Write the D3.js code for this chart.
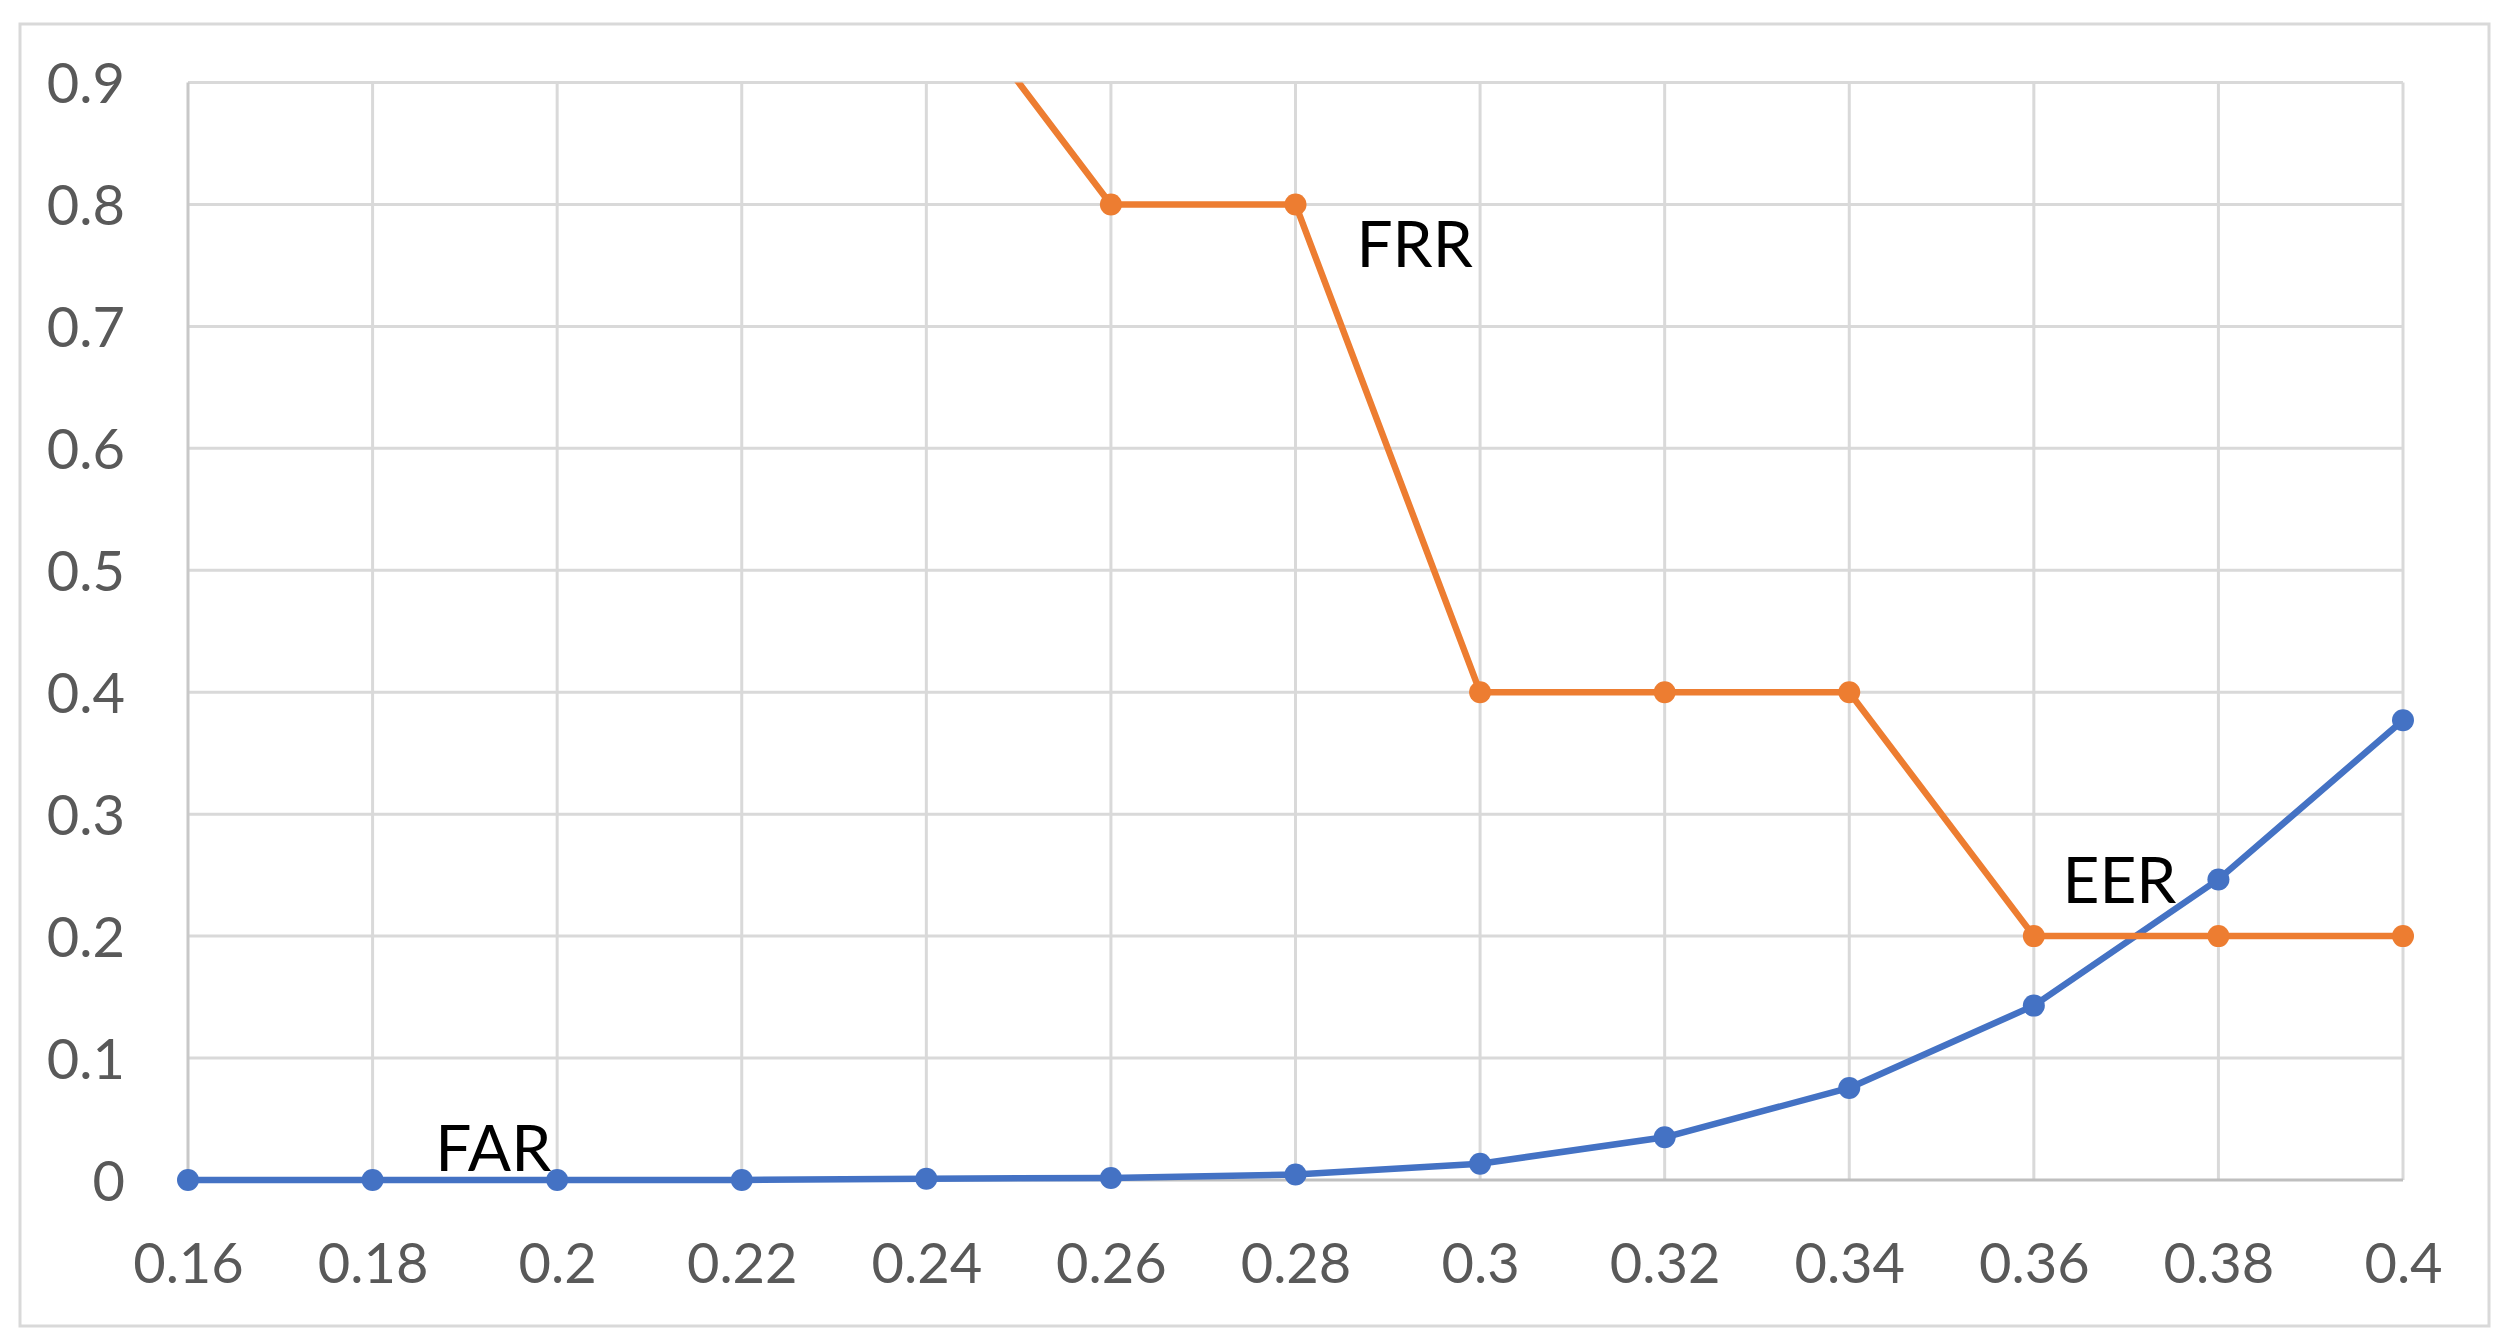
<!DOCTYPE html>
<html>
<head>
<meta charset="utf-8">
<script src="https://cdn.jsdelivr.net/npm/d3@7"></script>
<style>
  body { margin: 0; background: #fff; }
  text { font-family: Lato, "Open Sans", sans-serif; }
</style>
</head>
<body>
<div id="chart"></div>
<script>
// threshold values on the x axis
var thresholds = [0.16, 0.18, 0.2, 0.22, 0.24, 0.26, 0.28, 0.3, 0.32, 0.34, 0.36, 0.38, 0.4];
var xTickLabels = ["0.16", "0.18", "0.2", "0.22", "0.24", "0.26", "0.28", "0.3", "0.32", "0.34", "0.36", "0.38", "0.4"];
var yTicks = [0, 0.1, 0.2, 0.3, 0.4, 0.5, 0.6, 0.7, 0.8, 0.9];
var yTickLabels = ["0", "0.1", "0.2", "0.3", "0.4", "0.5", "0.6", "0.7", "0.8", "0.9"];

// false acceptance rate (blue)
var far = [0, 0, 0, 0, 0.001, 0.0017, 0.0045, 0.0134, 0.035, 0.0755, 0.143, 0.2465, 0.377];
// false rejection rate (orange)
var frr = [1, 1, 1, 1, 1, 0.8, 0.8, 0.4, 0.4, 0.4, 0.2, 0.2, 0.2];

var W = 2506, H = 1342;
var margin = {top: 82.5, right: 103, bottom: 162, left: 188};
var width = W - margin.left - margin.right;
var height = H - margin.top - margin.bottom;

var svg = d3.select("#chart")
            .append("svg")
            .attr("width", W)
            .attr("height", H);

// outer chart border
svg.append("rect")
   .attr("x", 20).attr("y", 24)
   .attr("width", 2469).attr("height", 1302)
   .attr("fill", "#fff")
   .attr("stroke", "#d9d9d9")
   .attr("stroke-width", 3);

var g = svg.append("g")
           .attr("transform", "translate(" + margin.left + "," + margin.top + ")");

var x = d3.scaleLinear().domain([0.16, 0.4]).range([0, width]);
var y = d3.scaleLinear().domain([0, 0.9]).range([height, 0]);

// gridlines
g.selectAll(".hgrid")
 .data(yTicks.slice(1))
 .enter().append("line")
 .attr("x1", 0).attr("x2", width)
 .attr("y1", d => y(d)).attr("y2", d => y(d))
 .attr("stroke", "#d9d9d9")
 .attr("stroke-width", 3);

g.selectAll(".vgrid")
 .data(thresholds)
 .enter().append("line")
 .attr("x1", d => x(d)).attr("x2", d => x(d))
 .attr("y1", 0).attr("y2", height)
 .attr("stroke", (d, i) => i == 0 ? "#c8c8c8" : "#d9d9d9")
 .attr("stroke-width", 3);

// bottom axis line
g.append("line")
 .attr("x1", 0).attr("x2", width)
 .attr("y1", y(0)).attr("y2", y(0))
 .attr("stroke", "#bfbfbf")
 .attr("stroke-width", 3);

// axes (labels only)
var xAxis = g.append("g")
   .attr("transform", "translate(0," + height + ")")
   .call(d3.axisBottom(x).tickValues(thresholds).tickSize(0).tickPadding(63)
          .tickFormat((d, i) => xTickLabels[i]));
var yAxis = g.append("g")
   .call(d3.axisLeft(y).tickValues(yTicks).tickSize(0).tickPadding(63)
          .tickFormat((d, i) => yTickLabels[i]));

[xAxis, yAxis].forEach(function(a) {
  a.select(".domain").remove();
  a.selectAll("text")
   .attr("font-family", "Lato, 'Open Sans', sans-serif")
   .attr("font-size", 56)
   .attr("fill", "#595959");
});
yAxis.selectAll("text").attr("dy", "0.36em");

// clip at top of plot area
svg.append("clipPath").attr("id", "plotClip")
   .append("rect")
   .attr("x", -30).attr("y", 0)
   .attr("width", width + 60).attr("height", height + 40);

var plot = g.append("g").attr("clip-path", "url(#plotClip)");

var line = d3.line()
             .x((d, i) => x(thresholds[i]))
             .y(d => y(d));

var series = [
  {name: "FAR", values: far, color: "#4472C4"},
  {name: "FRR", values: frr, color: "#ED7D31"}
];

series.forEach(function(s) {
  plot.append("path")
      .datum(s.values)
      .attr("fill", "none")
      .attr("stroke", s.color)
      .attr("stroke-width", 6.5)
      .attr("stroke-linejoin", "round")
      .attr("d", line);

  plot.selectAll(".pt-" + s.name)
      .data(s.values)
      .enter().append("circle")
      .attr("cx", (d, i) => x(thresholds[i]))
      .attr("cy", d => y(d))
      .attr("r", 11)
      .attr("fill", s.color);
});

// text annotations, anchored in data space
var notes = [
  {text: "FAR", x: 0.1868, y: 0.0074},
  {text: "FRR", x: 0.2866, y: 0.7485},
  {text: "EER", x: 0.3631, y: 0.2272}
];

g.selectAll(".note")
 .data(notes)
 .enter().append("text")
 .attr("x", d => x(d.x))
 .attr("y", d => y(d.y))
 .attr("font-size", 64)
 .attr("fill", "#000")
 .text(d => d.text);
</script>
</body>
</html>
